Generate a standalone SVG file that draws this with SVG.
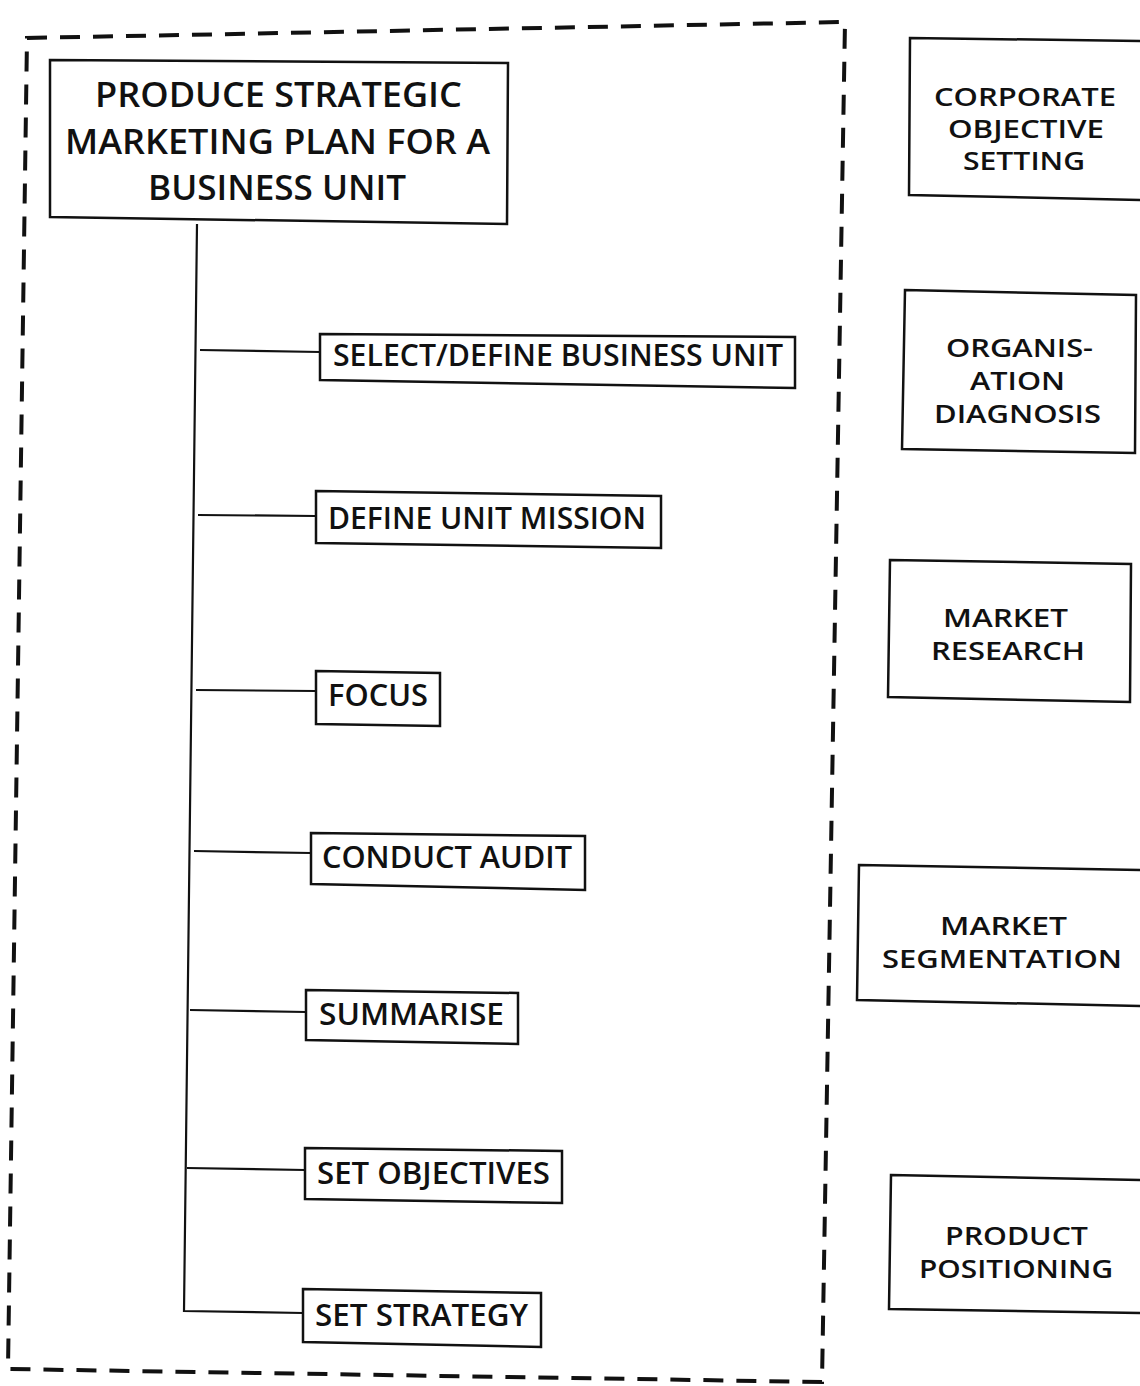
<svg xmlns="http://www.w3.org/2000/svg" width="1140" height="1386" viewBox="0 0 1140 1386">
<style>
.bx{fill:#fff;stroke:#111;stroke-width:2.5}
.ln{fill:none;stroke:#111;stroke-width:2.2}
.bd{fill:none;stroke:#111;stroke-width:4;stroke-dasharray:20 13}
text{font-family:"Open Sans","Noto Sans","DejaVu Sans",sans-serif;font-weight:600;fill:#111;text-anchor:start}
.b{font-size:34px}
.s{font-size:30px}
.r{font-size:25px}
</style>
<rect width="1140" height="1386" fill="#fff"/>
<g id="boundary">
<path class="bd" d="M27 38 L845 22 L822 1382 L8 1369 Z"/>
</g>
<g id="connectors">
<path class="ln" d="M197 224 L184 1311 L303 1313"/>
<line class="ln" x1="200" y1="350" x2="320" y2="352"/>
<line class="ln" x1="198" y1="515" x2="316" y2="516"/>
<line class="ln" x1="196" y1="690" x2="316" y2="691"/>
<line class="ln" x1="194" y1="851" x2="311" y2="853"/>
<line class="ln" x1="190" y1="1010" x2="306" y2="1012"/>
<line class="ln" x1="187" y1="1168" x2="305" y2="1170"/>
</g>
<g id="main">
<polygon class="bx" points="50,60 508,63 507,224 50,217"/>
<text class="b" x="95" y="107" textLength="367" lengthAdjust="spacingAndGlyphs">PRODUCE STRATEGIC</text>
<text class="b" x="65" y="154" textLength="425" lengthAdjust="spacingAndGlyphs">MARKETING PLAN FOR A</text>
<text class="b" x="148" y="200" textLength="258" lengthAdjust="spacingAndGlyphs">BUSINESS UNIT</text>
</g>
<g id="select">
<polygon class="bx" points="320,334 795,337 795,388 320,380"/>
<text class="s" x="333" y="366" textLength="450" lengthAdjust="spacingAndGlyphs">SELECT/DEFINE BUSINESS UNIT</text>
</g>
<g id="mission">
<polygon class="bx" points="316,491 661,496 661,548 316,543"/>
<text class="s" x="328" y="529" textLength="318" lengthAdjust="spacingAndGlyphs">DEFINE UNIT MISSION</text>
</g>
<g id="focus">
<polygon class="bx" points="316,671 440,673 440,726 316,724"/>
<text class="s" x="328" y="706" textLength="100" lengthAdjust="spacingAndGlyphs">FOCUS</text>
</g>
<g id="audit">
<polygon class="bx" points="311,833 585,836 585,890 311,884"/>
<text class="s" x="322" y="868" textLength="250" lengthAdjust="spacingAndGlyphs">CONDUCT AUDIT</text>
</g>
<g id="summarise">
<polygon class="bx" points="306,990 518,993 518,1044 306,1040"/>
<text class="s" x="319" y="1025" textLength="185" lengthAdjust="spacingAndGlyphs">SUMMARISE</text>
</g>
<g id="objectives">
<polygon class="bx" points="305,1148 562,1151 562,1203 305,1199"/>
<text class="s" x="317" y="1184" textLength="233" lengthAdjust="spacingAndGlyphs">SET OBJECTIVES</text>
</g>
<g id="strategy">
<polygon class="bx" points="303,1289 541,1293 541,1347 303,1342"/>
<text class="s" x="315" y="1326" textLength="213" lengthAdjust="spacingAndGlyphs">SET STRATEGY</text>
</g>
<g id="corporate">
<polygon class="bx" points="910,38 1142,41 1142,200 909,195"/>
<text class="r" x="934" y="106" textLength="182" lengthAdjust="spacingAndGlyphs">CORPORATE</text>
<text class="r" x="948" y="138" textLength="156" lengthAdjust="spacingAndGlyphs">OBJECTIVE</text>
<text class="r" x="963" y="170" textLength="122" lengthAdjust="spacingAndGlyphs">SETTING</text>
</g>
<g id="organisation">
<polygon class="bx" points="905,290 1136,295 1135,453 902,449"/>
<text class="r" x="946" y="357" textLength="147" lengthAdjust="spacingAndGlyphs">ORGANIS-</text>
<text class="r" x="970" y="390" textLength="95" lengthAdjust="spacingAndGlyphs">ATION</text>
<text class="r" x="934" y="423" textLength="167" lengthAdjust="spacingAndGlyphs">DIAGNOSIS</text>
</g>
<g id="research">
<polygon class="bx" points="890,560 1131,564 1130,702 888,697"/>
<text class="r" x="943" y="627" textLength="125" lengthAdjust="spacingAndGlyphs">MARKET</text>
<text class="r" x="931" y="660" textLength="154" lengthAdjust="spacingAndGlyphs">RESEARCH</text>
</g>
<g id="segmentation">
<polygon class="bx" points="859,865 1142,870 1142,1006 857,1000"/>
<text class="r" x="940" y="935" textLength="127" lengthAdjust="spacingAndGlyphs">MARKET</text>
<text class="r" x="882" y="968" textLength="240" lengthAdjust="spacingAndGlyphs">SEGMENTATION</text>
</g>
<g id="positioning">
<polygon class="bx" points="891,1175 1142,1180 1142,1313 889,1309"/>
<text class="r" x="945" y="1245" textLength="143" lengthAdjust="spacingAndGlyphs">PRODUCT</text>
<text class="r" x="919" y="1278" textLength="194" lengthAdjust="spacingAndGlyphs">POSITIONING</text>
</g>
</svg>
